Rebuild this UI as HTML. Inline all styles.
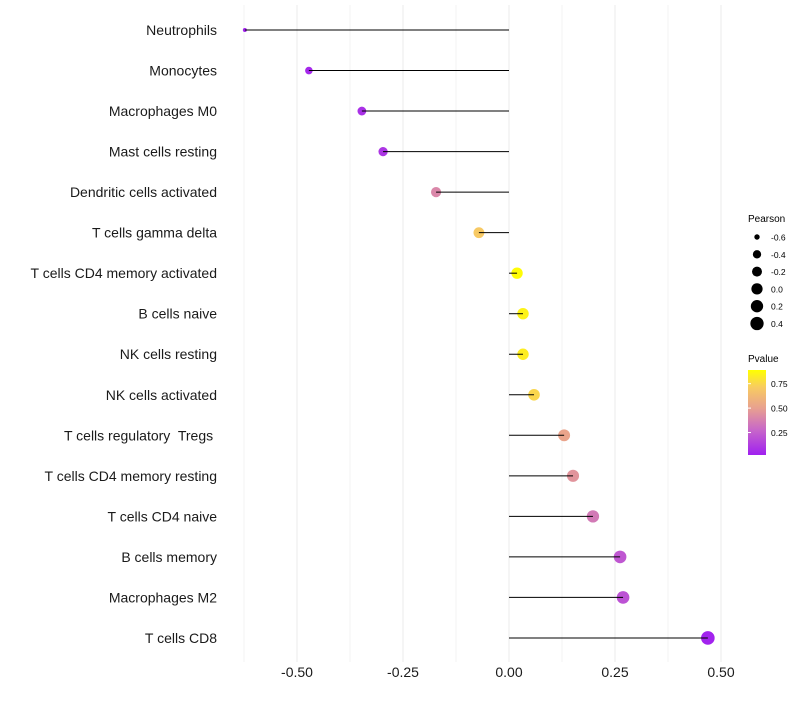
<!DOCTYPE html>
<html><head><meta charset="utf-8"><style>
body{margin:0;background:#fff;font-family:"Liberation Sans",sans-serif}
</style></head><body>
<svg id="chart" width="800" height="700" xmlns="http://www.w3.org/2000/svg">
<g id="grid"></g>
<g id="marks"></g>
<g id="ylabels"></g>
<g id="xlabels"></g>
<g id="legend">
<defs><linearGradient id="pg" x1="0" y1="1" x2="0" y2="0">
<stop offset="0" stop-color="#a020f0"/><stop offset="0.3" stop-color="#c868c8"/><stop offset="0.55" stop-color="#e8a090"/><stop offset="0.8" stop-color="#f8cc60"/><stop offset="1" stop-color="#ffff00"/></linearGradient></defs>
<text x="748" y="222" font-size="10" fill="#000">Pearson</text>
<text x="748" y="362" font-size="10" fill="#000">Pvalue</text>
<rect x="748" y="370" width="18" height="85" fill="url(#pg)"/>
</g>
</svg>
<script>
const categories=["Neutrophils","Monocytes","Macrophages M0","Mast cells resting","Dendritic cells activated","T cells gamma delta","T cells CD4 memory activated","B cells naive","NK cells resting","NK cells activated","T cells regulatory  Tregs ","T cells CD4 memory resting","T cells CD4 naive","B cells memory","Macrophages M2","T cells CD8"];
const pearson=[-0.623,-0.472,-0.347,-0.297,-0.172,-0.071,0.019,0.033,0.033,0.059,0.13,0.151,0.198,0.262,0.269,0.469];
const pvalues=[0.03,0.05,0.08,0.1,0.4,0.7,0.88,0.85,0.83,0.75,0.52,0.45,0.35,0.22,0.2,0.03];
const xTicks=[-0.5,-0.25,0,0.25,0.5];
const xTickLabels=["-0.50","-0.25","0.00","0.25","0.50"];
const sizeBreaks=[-0.6,-0.4,-0.2,0.0,0.2,0.4];
const sizeLabels=["-0.6","-0.4","-0.2","0.0","0.2","0.4"];
const pBreaks=[0.25,0.5,0.75];
const pLabels=["0.25","0.50","0.75"];
const NS="http://www.w3.org/2000/svg";
const x=v=>509+v*424;
const y=i=>30+i*40.53;
const r=v=>2+4.8*Math.sqrt(Math.max(0,(v+0.623)/1.092));
const stops=[[0,[160,32,240]],[0.3,[200,104,200]],[0.55,[232,160,144]],[0.8,[248,204,96]],[1,[255,255,0]]];
const pmin=0.02,pmax=0.89;
function col(p){let t=(p-pmin)/(pmax-pmin);t=Math.max(0,Math.min(1,t));
for(let k=1;k<stops.length;k++){if(t<=stops[k][0]){const a=stops[k-1],b=stops[k];const f=(t-a[0])/(b[0]-a[0]);
const c=a[1].map((v,j)=>Math.round(v+(b[1][j]-v)*f));return `rgb(${c})`;}}return "#ff0";}
function mk(tag,at,parent){const e=document.createElementNS(NS,tag);for(const k in at)e.setAttribute(k,at[k]);parent.appendChild(e);return e;}
const grid=document.getElementById('grid'),marks=document.getElementById('marks'),yl=document.getElementById('ylabels'),xl=document.getElementById('xlabels'),lg=document.getElementById('legend');
for(let v=-0.625;v<=0.55;v+=0.125){const g=mk('line',{x1:x(v),x2:x(v),y1:5,y2:662,stroke:'#ebebeb','stroke-width':Math.abs(v/0.25-Math.round(v/0.25))<1e-6?1:0.6},grid);

}
categories.forEach((c,i)=>{
const pt=mk('circle',{cx:x(pearson[i]),cy:y(i),r:r(pearson[i]),fill:col(pvalues[i])},marks);


const ln=mk('line',{x1:x(0),x2:x(pearson[i]),y1:y(i),y2:y(i),stroke:'#000','stroke-width':1},marks);


const t=mk('text',{x:217,y:y(i)+5,'text-anchor':'end','font-size':14,fill:'#1a1a1a','xml:space':'preserve'},yl);t.style.whiteSpace='pre';t.textContent=c;


});
xTicks.forEach((v,i)=>{const t=mk('text',{x:x(v),y:677,'text-anchor':'middle','font-size':14,fill:'#1a1a1a'},xl);t.textContent=xTickLabels[i];

});
sizeBreaks.forEach((v,i)=>{const cy=237+i*17.3;
const c=mk('circle',{cx:757,cy:cy,r:r(v),fill:'#000'},lg);


const t=mk('text',{x:771,y:cy+3.5,'font-size':8.5,fill:'#000'},lg);t.textContent=sizeLabels[i];

});
pBreaks.forEach((p,i)=>{const yy=455-(p-pmin)/(pmax-pmin)*85;
const tk=mk('line',{x1:748,x2:751,y1:yy,y2:yy,stroke:'#fff'},lg);


const t=mk('text',{x:771,y:yy+3.5,'font-size':8.5,fill:'#000'},lg);t.textContent=pLabels[i];

});
</script>
</body></html>
